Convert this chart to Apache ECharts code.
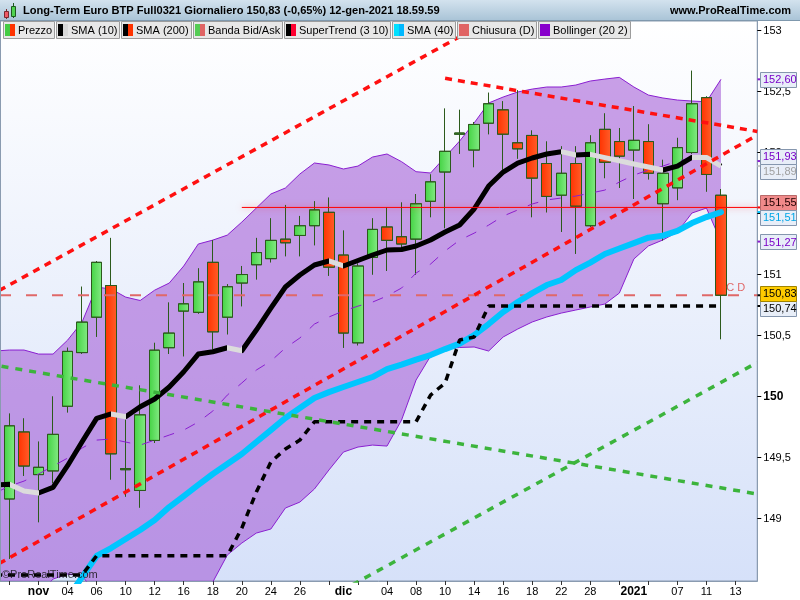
<!DOCTYPE html>
<html>
<head>
<meta charset="utf-8">
<title>Long-Term Euro BTP Full0321</title>
<script src="https://cdn.jsdelivr.net/npm/echarts@6/dist/echarts.min.js"></script>
<style>
html,body{margin:0;padding:0;background:#ffffff;}
#chart{width:800px;height:600px;}
</style>
</head>
<body>
<div id="chart"></div>
<script>
// ================= DATA =================
const categories = ['28/10','29/10','30/10','02/11','03/11','04/11','05/11','06/11','09/11','10/11','11/11','12/11','13/11','16/11','17/11','18/11','19/11','20/11','23/11','24/11','25/11','26/11','27/11','30/11','01/12','02/12','03/12','04/12','07/12','08/12','09/12','10/12','11/12','14/12','15/12','16/12','17/12','18/12','21/12','22/12','23/12','28/12','29/12','30/12','04/01','05/01','06/01','07/01','08/01','11/01','12/01','13/01','14/01'];
const xTickLabels = ['', '', '', 'nov', '', '04', '', '06', '', '10', '', '12', '', '16', '', '18', '', '20', '', '24', '', '26', '', '', 'dic', '', '', '04', '', '08', '', '10', '', '14', '', '16', '', '18', '', '22', '', '28', '', '', '2021', '', '', '07', '', '11', '', '13', ''];
const monthLabels = ['nov', 'dic', '2021'];
const yTickValues = [149, 149.5, 150, 150.5, 151, 151.5, 152, 152.5, 153];
const yRange = [148.488, 153.078];
const xRange = [0.3457, 52.5];

// daily candles 29/10 .. 12/01
const open  = [149.16,149.71,149.36,149.39,149.92,150.36,150.65,150.91,149.40,149.23,149.64,150.40,150.70,150.69,151.10,150.65,150.93,151.08,151.13,151.29,151.32,151.40,151.51,151.16,150.44,151.14,151.39,151.31,151.29,151.60,151.84,152.15,152.02,152.24,152.35,152.08,152.14,151.91,151.65,151.91,151.40,152.19,152.09,152.02,152.09,151.58,151.71,152.00,152.45,151.65];
const high  = [149.86,149.82,149.63,150.00,150.40,150.90,151.11,151.30,149.81,150.09,150.44,150.77,150.93,151.05,151.28,150.92,151.07,151.30,151.46,151.57,151.48,151.60,151.63,151.36,151.09,151.46,151.55,151.59,151.66,151.82,152.36,152.35,152.25,152.49,152.42,152.51,152.18,152.09,152.05,152.05,152.14,152.32,152.20,152.38,152.23,151.94,152.12,152.67,152.46,151.70];
const low   = [148.67,149.35,148.97,149.29,149.87,150.35,150.49,149.32,149.18,149.09,149.62,150.35,150.33,150.68,150.39,150.51,150.74,150.96,151.10,151.15,151.15,151.24,150.99,150.40,150.42,151.00,151.03,151.22,151.00,151.47,151.38,151.99,151.88,152.15,151.86,151.95,151.47,151.51,151.35,151.17,151.39,151.79,151.71,151.62,151.78,151.28,151.61,151.99,151.68,150.47];
const close = [149.76,149.43,149.42,149.69,150.37,150.61,151.10,149.53,149.41,149.85,150.38,150.52,150.76,150.94,150.53,150.90,151.00,151.18,151.28,151.26,151.40,151.53,151.06,150.52,151.07,151.37,151.28,151.25,151.58,151.76,152.01,152.16,152.23,152.40,152.15,152.03,151.79,151.64,151.83,151.56,152.08,151.92,151.97,152.10,151.83,151.83,152.04,152.40,151.82,150.83];

// indicators 28/10 .. 12/01
const sma10 = [149.276,149.280,149.225,149.209,149.256,149.433,149.630,149.821,149.857,149.834,149.916,149.980,150.078,150.203,150.348,150.367,150.400,150.375,150.545,150.725,150.898,150.996,151.078,151.111,151.070,151.115,151.160,151.201,151.205,151.234,151.283,151.348,151.406,151.537,151.725,151.840,151.914,151.955,151.988,152.007,151.980,151.985,151.958,151.933,151.906,151.881,151.857,151.889,151.961,151.959,151.889];
const sma40 = [147.594,147.742,147.881,148.037,148.184,148.348,148.520,148.693,148.758,148.832,148.906,148.988,149.094,149.184,149.275,149.365,149.447,149.529,149.627,149.725,149.824,149.906,149.988,150.036,150.078,150.119,150.160,150.225,150.262,150.303,150.340,150.389,150.434,150.504,150.594,150.693,150.775,150.848,150.914,150.955,151.036,151.098,151.168,151.213,151.257,151.302,151.319,151.357,151.422,151.471,151.512];
const bbUpper = [150.373,150.381,150.381,150.348,150.348,150.462,150.611,150.897,150.881,150.815,150.787,150.872,150.930,151.070,151.250,151.282,151.323,151.430,151.545,151.660,151.709,151.824,151.914,151.898,151.865,151.889,151.963,151.988,151.925,151.843,151.832,151.963,152.094,152.242,152.406,152.455,152.496,152.520,152.537,152.537,152.553,152.586,152.602,152.616,152.537,152.471,152.447,152.430,152.422,152.416,152.600];
const bbMiddle = [149.209,149.266,149.307,149.365,149.430,149.495,149.578,149.643,149.652,149.627,149.602,149.643,149.684,149.725,149.791,149.881,150.012,150.111,150.217,150.291,150.398,150.480,150.594,150.652,150.701,150.741,150.774,150.824,150.889,151.012,151.086,151.193,151.282,151.339,151.405,151.479,151.529,151.578,151.611,151.627,151.643,151.667,151.692,151.758,151.815,151.856,151.889,151.930,151.955,151.955,151.930];
const bbLower = [148.004,148.152,148.234,148.381,148.504,148.545,148.529,148.381,148.414,148.430,148.414,148.414,148.430,148.381,148.332,148.479,148.701,148.799,148.881,148.914,149.086,149.135,149.242,149.398,149.545,149.586,149.602,149.594,149.807,150.135,150.332,150.389,150.402,150.406,150.373,150.488,150.553,150.611,150.652,150.684,150.709,150.734,150.758,150.848,151.127,151.234,151.283,151.348,151.504,151.545,151.270];
const superTrend = [148.537,148.537,148.537,148.537,148.537,148.537,148.537,148.695,148.695,148.695,148.695,148.695,148.695,148.695,148.695,148.695,148.695,148.922,149.217,149.463,149.570,149.643,149.793,149.793,149.793,149.793,149.793,149.793,149.793,149.793,150.012,150.111,150.463,150.488,150.742,150.742,150.742,150.742,150.742,150.742,150.742,150.742,150.742,150.742,150.742,150.742,150.742,150.742,150.742,150.742,150.742];

const dailyClose = 150.83;
const resistanceLevel = 151.55;
const resistanceStart = 17;
// drawn trend lines: [slot position, price]
const redTrendA = [[-0.5, 150.817], [35, 153.146]];
const redTrendB = [[-0.5, 148.578], [52.5, 152.143]];
const redTrendC = [[31, 152.608], [52.5, 152.173]];
const greenTrendD = [[-0.5, 150.267], [52.5, 149.201]];
const greenTrendE = [[23.76, 148.401], [52.5, 150.279]];

const titleText = 'Long-Term Euro BTP Full0321 Giornaliero 150,83 (-0,65%) 12-gen-2021 18.59.59';
const siteText = 'www.ProRealTime.com';
const watermarkText = '\u00A9ProRealTime.com';
const legendNames = ['Prezzo', 'SMA (10)', 'SMA (200)', 'Banda Bid/Ask', 'SuperTrend (3 10)', 'SMA (40)', 'Chiusura (D)', 'Bollinger (20 2)'];

// ================= BUILD =================
const FONT = '"Liberation Sans", Arial, sans-serif';
const N = categories.length;
const chart = echarts.init(document.getElementById('chart'), null, {renderer: 'canvas', width: 800, height: 600});

const candleData = open.map((o, i) => [i + 1, o, close[i], low[i], high[i]]);
const lineData = arr => arr.map((v, k) => [k, v]);
const tickSlots = categories.map((c, k) => k).filter(k => k % 2 === 1);
const labelSlots = categories.map((c, k) => k).filter(k => xTickLabels[k] !== '');

const smaPieces = [];
for (let k = 0; k < sma10.length - 1; k++) {
  smaPieces.push({gte: k, lt: k + 1, color: sma10[k + 1] < sma10[k] ? '#dcdcdc' : '#000000'});
}

const PURPLE = '#8a1fd0';
const series = [
  {name: 'bbFill', type: 'custom', silent: true, z: 1, clip: true,
    data: [[bbMiddle.length - 1, bbMiddle[bbMiddle.length - 1]]],
    renderItem: (params, api) => {
      const pts = [];
      for (let k = 0; k < bbUpper.length; k++) pts.push(api.coord([k, bbUpper[k]]));
      for (let k = bbLower.length - 1; k >= 0; k--) pts.push(api.coord([k, bbLower[k]]));
      return {type: 'polygon', shape: {points: pts}, style: {fill: 'rgba(160,85,212,0.56)'}};
    }},
  {name: 'bbUpper', type: 'line', data: lineData(bbUpper), symbol: 'none', z: 2, lineStyle: {color: PURPLE, width: 1}},
  {name: 'bbLower', type: 'line', data: lineData(bbLower), symbol: 'none', z: 2, lineStyle: {color: PURPLE, width: 1}},
  {name: 'Prezzo', type: 'candlestick', data: candleData, encode: {x: 0, y: [1, 2, 3, 4]}, barWidth: 11, z: 3,
    itemStyle: {
      color: new echarts.graphic.LinearGradient(0, 0, 1, 0, [{offset: 0, color: '#43d343'}, {offset: 1, color: '#84ea84'}]),
      color0: new echarts.graphic.LinearGradient(0, 0, 1, 0, [{offset: 0, color: '#ff3200'}, {offset: 1, color: '#ff5e2a'}]),
      borderColor: '#2c5a1c', borderColor0: '#2c5a1c', borderWidth: 1
    }},
  {name: 'bbMiddle', type: 'line', data: lineData(bbMiddle), symbol: 'none', z: 4,
    lineStyle: {color: PURPLE, width: 1, type: [11, 12]}},
  {name: 'Chiusura', type: 'line', data: [[xRange[0], dailyClose], [xRange[1], dailyClose]], symbol: 'none', z: 4,
    lineStyle: {color: '#e06868', width: 2, type: [11, 15]}},
  {name: 'SMA40', type: 'line', data: lineData(sma40), symbol: 'none', z: 5,
    lineStyle: {color: '#00c6ff', width: 6, cap: 'round', join: 'round'}},
  {name: 'SuperTrend', type: 'line', data: lineData(superTrend), symbol: 'none', z: 5,
    lineStyle: {color: '#000000', width: 3.5, type: [7, 6]}},
  {name: 'SMA10', type: 'line', data: lineData(sma10), symbol: 'none', z: 6,
    lineStyle: {width: 5, join: 'round'}},
  {name: 'trendA', type: 'line', data: redTrendA, symbol: 'none', z: 7, lineStyle: {color: '#ff1010', width: 3.5, type: [7, 6]}},
  {name: 'trendB', type: 'line', data: redTrendB, symbol: 'none', z: 7, lineStyle: {color: '#ff1010', width: 3.5, type: [7, 6]}},
  {name: 'trendC', type: 'line', data: redTrendC, symbol: 'none', z: 7, lineStyle: {color: '#ff1010', width: 3.5, type: [7, 6]}},
  {name: 'trendD', type: 'line', data: greenTrendD, symbol: 'none', z: 7, lineStyle: {color: '#3cb43c', width: 3.5, type: [7, 7]}},
  {name: 'trendE', type: 'line', data: greenTrendE, symbol: 'none', z: 7, lineStyle: {color: '#3cb43c', width: 3.5, type: [7, 7]}},
  {name: 'resistance', type: 'line', data: [[resistanceStart, resistanceLevel], [52.5, resistanceLevel]], symbol: 'none', z: 7,
    lineStyle: {color: '#ff0000', width: 1, shadowBlur: 6, shadowColor: 'rgba(255,0,0,0.55)'}}
];
const smaIndex = series.findIndex(s => s.name === 'SMA10');

const option = {
  animation: false,
  backgroundColor: '#ffffff',
  grid: {
    left: 0, right: 42.72, top: 21, bottom: 19, show: true,
    backgroundColor: new echarts.graphic.LinearGradient(0, 0, 0, 1, [{offset: 0, color: '#ffffff'}, {offset: 1, color: '#d6e1f9'}]),
    borderColor: '#8a9bb0', borderWidth: 1
  },
  xAxis: {
    type: 'value', min: xRange[0], max: xRange[1], scale: true,
    axisLine: {show: true, onZero: false, lineStyle: {color: '#8a9bb0'}},
    axisTick: {show: true, customValues: tickSlots, length: 4, lineStyle: {color: '#333333'}},
    axisLabel: {
      customValues: labelSlots,
      formatter: (v) => {
        const t = xTickLabels[Math.round(v)];
        return monthLabels.indexOf(t) >= 0 ? '{b|' + t + '}' : t;
      },
      margin: 5, color: '#000', fontFamily: FONT, fontSize: 11,
      rich: {b: {fontWeight: 'bold', fontSize: 12, fontFamily: FONT, color: '#000'}}
    },
    splitLine: {show: false}
  },
  yAxis: {
    type: 'value', position: 'right', min: yRange[0], max: yRange[1], scale: true,
    axisLine: {show: true, lineStyle: {color: '#8a9bb0'}},
    axisTick: {show: true, customValues: yTickValues, length: 4, lineStyle: {color: '#000'}},
    axisLabel: {
      customValues: yTickValues, margin: 6, color: '#000', fontFamily: FONT, fontSize: 11,
      formatter: (v) => { const s = String(v).replace('.', ','); return v === 150 ? '{b|' + s + '}' : s; },
      rich: {b: {fontWeight: 'bold', fontSize: 12, fontFamily: FONT, color: '#000'}}
    },
    splitLine: {show: false}
  },
  visualMap: [{type: 'piecewise', show: false, dimension: 0, seriesIndex: smaIndex, pieces: smaPieces, outOfRange: {color: '#000000'}}],
  series: series
};
chart.setOption(option);

// ================= OVERLAY GRAPHICS =================
const mctx = document.createElement('canvas').getContext('2d');
const textW = (t, f) => { mctx.font = f; return mctx.measureText(t).width; };
const g = [];
// title bar
g.push({type: 'rect', z: 100, shape: {x: 0, y: 0, width: 800, height: 21},
  style: {fill: new echarts.graphic.LinearGradient(0, 0, 0, 1, [{offset: 0, color: '#d3e2ee'}, {offset: 1, color: '#a8c3d6'}])}});
g.push({type: 'line', z: 101, shape: {x1: 0, y1: 20.5, x2: 800, y2: 20.5}, style: {stroke: '#7f98ad', lineWidth: 1}});
// icon
g.push({type: 'line', z: 101, shape: {x1: 6.5, y1: 9, x2: 6.5, y2: 19}, style: {stroke: '#7a2a30', lineWidth: 1}});
g.push({type: 'rect', z: 102, shape: {x: 4.5, y: 11.5, width: 4, height: 6}, style: {fill: '#ee5a66', stroke: '#7a2a30', lineWidth: 1}});
g.push({type: 'line', z: 101, shape: {x1: 13.5, y1: 3, x2: 13.5, y2: 18}, style: {stroke: '#1f5a1f', lineWidth: 1}});
g.push({type: 'rect', z: 102, shape: {x: 11.5, y: 6.5, width: 4, height: 10}, style: {fill: '#4fd24f', stroke: '#1f5a1f', lineWidth: 1}});
g.push({type: 'text', z: 102, x: 23, y: 11, style: {text: titleText, font: 'bold 11.1px ' + FONT, fill: '#000', textAlign: 'left', textVerticalAlign: 'middle'}});
g.push({type: 'text', z: 102, x: 791, y: 11, style: {text: siteText, font: 'bold 11px ' + FONT, fill: '#000', textAlign: 'right', textVerticalAlign: 'middle'}});

// legend boxes
const swatches = [['#44cc44', '#ff3300'], ['#000000', '#d8d8d8'], ['#000000', '#ff3300'], ['#55cc55', '#e06464'],
  ['#000000', '#ff0030'], ['#00e0ff', '#00b8ff'], ['#e06464', '#e06464'], ['#8800cc', '#8800cc']];
const LF = '11px ' + FONT;
let lx = 3;
legendNames.forEach((name, i) => {
  const w = Math.round(2 + 10 + 3 + textW(name, LF) + 2);
  g.push({type: 'rect', z: 100, shape: {x: lx + 0.5, y: 21.5, width: w, height: 17}, style: {fill: '#e7e7e7', stroke: '#9c9c9c', lineWidth: 1}});
  g.push({type: 'rect', z: 101, shape: {x: lx + 2, y: 24, width: 5, height: 12}, style: {fill: swatches[i][0]}});
  g.push({type: 'rect', z: 101, shape: {x: lx + 7, y: 24, width: 5, height: 12}, style: {fill: swatches[i][1]}});
  g.push({type: 'text', z: 101, x: lx + 15, y: 30.5, style: {text: name, font: LF, fill: '#000', textAlign: 'left', textVerticalAlign: 'middle'}});
  lx += w + 2;
});

// left frame border
g.push({type: 'line', z: 100, shape: {x1: 0.5, y1: 21, x2: 0.5, y2: 581}, style: {stroke: '#8a9bb0', lineWidth: 1}});
// watermark
g.push({type: 'text', z: 99, x: 2, y: 575, style: {text: watermarkText, font: '11px ' + FONT, fill: 'rgba(20,20,20,0.85)', textAlign: 'left', textVerticalAlign: 'middle'}});

const yPix = v => chart.convertToPixel({yAxisIndex: 0}, v);
const xPix = v => chart.convertToPixel({xAxisIndex: 0}, v);
// "C D" label of daily close line
g.push({type: 'text', z: 99, x: xPix(xRange[1]) - 12, y: yPix(dailyClose) - 7,
  style: {text: 'C D', font: '11px ' + FONT, fill: '#e06868', textAlign: 'right', textVerticalAlign: 'middle'}});

// price tags on the axis
const fmt = v => v.toFixed(2).replace('.', ',');
const tags = [
  {v: bbUpper[bbUpper.length - 1], color: '#7a00c8', bg: '#e8eef8', border: '#8596ae', tick: PURPLE},
  {v: bbMiddle[bbMiddle.length - 1], color: '#7a00c8', bg: '#e8eef8', border: '#8596ae', tick: PURPLE},
  {v: sma10[sma10.length - 1], color: '#a0a0a0', bg: '#e8eef8', border: '#8596ae', tick: '#c8c8c8'},
  {v: resistanceLevel, color: '#200000', bg: '#f08a8a', border: '#b86a6a', tick: '#ff0000'},
  {v: sma40[sma40.length - 1], color: '#00a6e6', bg: '#e8eef8', border: '#8596ae', tick: '#00c6ff'},
  {v: bbLower[bbLower.length - 1], color: '#7a00c8', bg: '#e8eef8', border: '#8596ae', tick: PURPLE},
  {v: close[close.length - 1], color: '#000000', bg: '#ffcc00', border: '#a08400', tick: '#000'},
  {v: superTrend[superTrend.length - 1], color: '#000000', bg: '#e8eef8', border: '#8596ae', tick: '#000'}
];
const items = tags.map(t => Object.assign({}, t, {y0: yPix(t.v), y: yPix(t.v)})).sort((a, b) => a.y0 - b.y0);
for (let it = 0; it < 60; it++) {
  for (let i = 1; i < items.length; i++) {
    const d = items[i].y - items[i - 1].y;
    if (d < 15) { const s = (15 - d) / 2; items[i].y += s; items[i - 1].y -= s; }
  }
}
items.forEach((t, i) => {
  const z = t.bg === '#ffcc00' ? 112 : 105 + i * 0.01;
  g.push({type: 'line', z: 104, shape: {x1: 757.5, y1: t.y0, x2: 762, y2: t.y0}, style: {stroke: t.tick, lineWidth: 2}});
  g.push({type: 'rect', z: z, shape: {x: 760.5, y: Math.round(t.y - 7.5) + 0.5, width: 36, height: 15}, style: {fill: t.bg, stroke: t.border, lineWidth: 1}});
  g.push({type: 'text', z: z + 0.001, x: 763, y: Math.round(t.y) + 0.5, style: {text: fmt(t.v), font: '11px ' + FONT, fill: t.color, textAlign: 'left', textVerticalAlign: 'middle'}});
});

chart.setOption({graphic: g});
</script>
</body>
</html>
